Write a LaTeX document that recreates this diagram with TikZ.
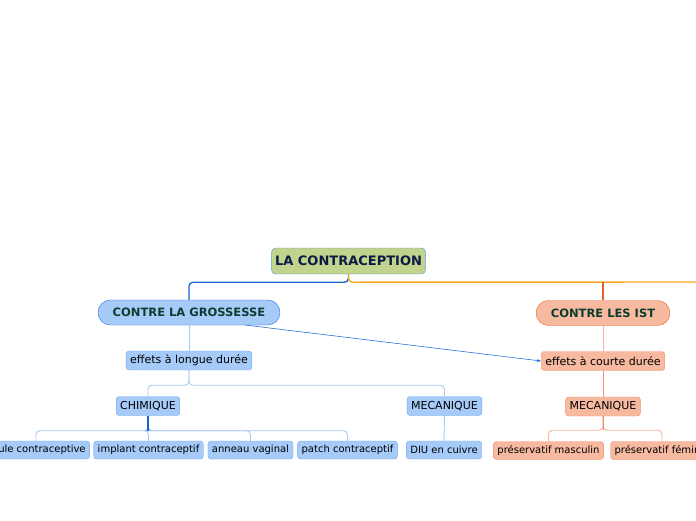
\documentclass[tikz,border=0pt]{standalone}
\usepackage{fontspec}
\setmainfont{DejaVu Sans}
\usetikzlibrary{shapes.misc,arrows.meta}
\definecolor{rootfill}{HTML}{C2D38E}
\definecolor{rootdraw}{HTML}{5B9BD5}
\definecolor{rootink}{HTML}{0B1A45}
\definecolor{bfill}{HTML}{A7CBF9}
\definecolor{bdraw}{HTML}{2B6FDB}
\definecolor{blight}{HTML}{6EA6EC}
\definecolor{bline}{HTML}{A9C9F2}
\definecolor{sfill}{HTML}{F7BAA1}
\definecolor{sdraw}{HTML}{E85C2A}
\definecolor{slight}{HTML}{F28E6E}
\definecolor{sline}{HTML}{F6B59C}
\definecolor{mainink}{HTML}{0B3D2E}
\definecolor{trunkb}{HTML}{1A66CC}
\definecolor{trunko}{HTML}{F6A821}

\begin{document}
\begin{tikzpicture}[x=1pt,y=-1pt,font=\fontsize{11}{13}\selectfont,
 rt/.style={draw=rootdraw,fill=rootfill,rounded corners=4pt,minimum height=26pt,inner xsep=3.5pt,font=\fontsize{13}{15}\selectfont\bfseries,text=rootink},
 mn/.style={rounded rectangle,minimum height=25pt,inner xsep=14pt,font=\fontsize{11.5}{13}\selectfont\bfseries,text=mainink},
 sb/.style={draw,rounded corners=3pt,minimum height=19pt,inner xsep=4pt,inner ysep=0pt},
 lf/.style={sb,minimum height=18pt,font=\fontsize{10}{12}\selectfont},
 bmn/.style={mn,draw=bdraw,fill=bfill},
 smn/.style={mn,draw=sdraw,fill=sfill},
 bsb/.style={sb,draw=blight,fill=bfill},
 ssb/.style={sb,draw=slight,fill=sfill},
 blf/.style={lf,draw=blight,fill=bfill},
 slf/.style={lf,draw=slight,fill=sfill},
 ln/.style={rounded corners=4pt,line width=0.9pt},
 ar/.style={-{Stealth[length=4pt,width=3pt]},draw=bdraw,line width=0.6pt}]
\clip (0,0) rectangle (696,520);
\node[rt] (lc) at (348.5,261) {LA CONTRACEPTION};
\node[bmn] (cg) at (189,312.5) {CONTRE LA GROSSESSE};
\node[smn] (ci) at (603,313) {CONTRE LES IST};
\node[bsb] (ld) at (189,360.5) {effets à longue durée};
\node[ssb] (cd) at (603,361) {effets à courte durée};
\node[bsb] (ch) at (148,406) {CHIMIQUE};
\node[bsb] (bm) at (444.5,406) {MECANIQUE};
\node[ssb] (sm) at (603,406.5) {MECANIQUE};
\node[blf] (pc) at (36,450) {pilule contraceptive};
\node[blf] (ic) at (148.5,450) {implant contraceptif};
\node[blf] (av) at (250.5,450) {anneau vaginal};
\node[blf] (pt) at (347.5,450) {patch contraceptif};
\node[blf] (du) at (444,450) {DIU en cuivre};
\node[slf] (pm) at (548.5,450.5) {préservatif masculin};
\node[slf] (pf) at (662,450.5) {préservatif féminin};
\coordinate (oe) at (700,282);
\coordinate (cs) at (245,325);
% branches
\draw[ln,line width=1.4pt,trunkb] (lc.south) -- ++(0,8) -| (cg.north);
\draw[ln,line width=1.4pt,trunko] (lc.south) -- ++(0,8) -- (oe);
\draw[ln,line width=1.4pt,sdraw] (ci.north) -- ++(0,-18);
\draw[ln,bline] (cg.south) -- (ld.north);
\draw[ln,sline] (ci.south) -- (cd.north);
\draw[ln,bline] (ld.south) -- ++(0,15) -| (ch.north);
\draw[ln,bline] (ld.south) -- ++(0,15) -| (bm.north);
\draw[ln,slight] (cd.south) -- (sm.north);
\draw[ln,bline] (bm.south) -- (du.north);
\foreach \n in {pc,ic,av,pt}
  \draw[ln,bline] (ch.south) -- ++(0,15) -| (\n.north);
\draw[ln,line width=1.4pt,trunkb] (ch.south) -- ++(0,15);
\foreach \n in {pm,pf}
  \draw[ln,sline] (sm.south) -- ++(0,14) -| (\n.north);
\draw[ln,slight] (sm.south) -- ++(0,14);
% relation
\draw[ar] (cs) -- (cd.west);
\end{tikzpicture}
\end{document}
